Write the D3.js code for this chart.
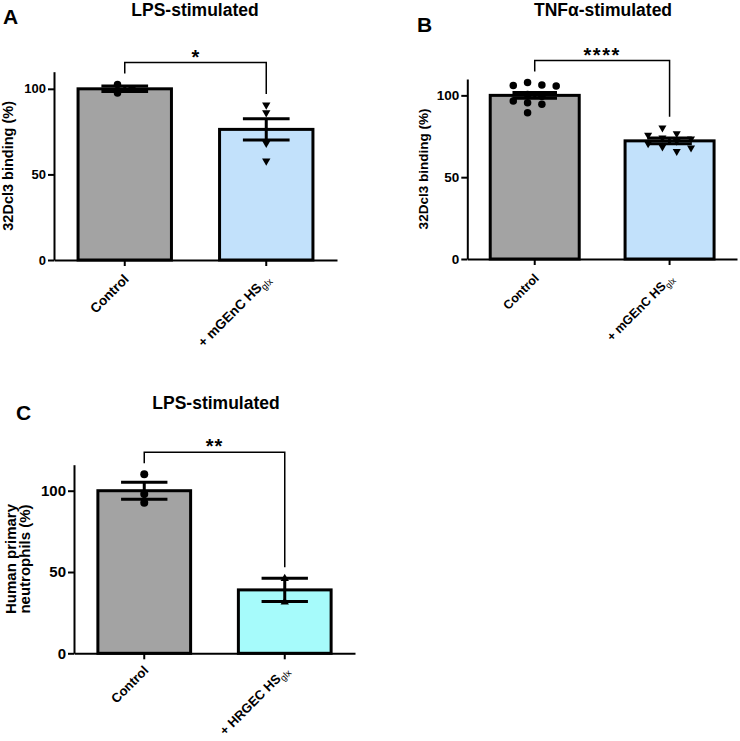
<!DOCTYPE html>
<html>
<head>
<meta charset="utf-8">
<script src="https://cdn.jsdelivr.net/npm/d3@7"></script>
<style>
  body { margin: 0; background: #fff; }
  text { font-family: "Liberation Sans", Arial, sans-serif; }
</style>
</head>
<body>
<svg id="fig" width="740" height="741"></svg>
<script>
// ---- data ----
var categoriesA = ["Control", "+ mGEnC HS"];
var subscriptsA = ["", "glx"];
var meansA = [100, 76.3];
var semsA = [1.6, 6.2];
var controlPtsA = [102.5, 100, 97.5];
var treatedPtsA = [90.6, 86.1, 68.2, 57.9];

var categoriesB = ["Control", "+ mGEnC HS"];
var subscriptsB = ["", "glx"];
var meansB = [100, 72.2];
var semsB = [1.8, 1.8];
var controlPtsB = [107.8, 106.3, 106.1, 105.7, 100.5, 99.5, 96.5, 95.5, 94.5, 89.4];
var treatedPtsB = [80.2, 76.7, 75.7, 74.0, 73.5, 72.0, 70.5, 68.5, 67.9, 65.8];

var categoriesC = ["Control", "+ HRGEC HS"];
var subscriptsC = ["", "glx"];
var meansC = [100, 39];
var semsC = [5.2, 7.1];
var controlPtsC = [110.2, 98, 92.6];
var treatedPtsC = [46, 31.5];

var yTicks = [0, 50, 100];
var colors = ["#a3a3a3", "#c2e1fb", "#a6fbfb"];

var svg = d3.select("#fig");
svg.append("rect").attr("width", 740).attr("height", 741).attr("fill", "#fff");

// spread points sideways so they don't overlap (simple beeswarm, then recentred)
function swarm(values, y, diam, step) {
  var placed = [];
  values.slice().sort(function(a, b) { return b - a; }).forEach(function(v) {
    var slots = [0, 1, -1, 2, -2, 3, -3, 4, -4];
    for (var k = 0; k < slots.length; k++) {
      var s = slots[k];
      var hit = placed.some(function(p) { return p.slot === s && Math.abs(y(p.v) - y(v)) < diam; });
      if (!hit) { placed.push({ v: v, slot: s }); break; }
    }
  });
  var ext = d3.extent(placed, function(p) { return p.slot; });
  var mid = (ext[0] + ext[1]) / 2;
  placed.forEach(function(p) { p.dx = (p.slot - mid) * step; });
  return placed;
}

function drawPanel(p) {
  var g = svg.append("g");
  var x = d3.scaleBand().domain(p.categories).range(p.xRange)
    .paddingInner(0.34).paddingOuter(0.17);
  var y = d3.scaleLinear().domain([0, p.yMax]).range(p.yRange);
  var bw = x.bandwidth();

  // bars
  g.selectAll("rect.bar").data(p.categories).enter().append("rect")
    .attr("x", function(d) { return x(d); })
    .attr("y", function(d, i) { return y(p.means[i]); })
    .attr("width", bw)
    .attr("height", function(d, i) { return y(0) - y(p.means[i]); })
    .attr("fill", function(d, i) { return p.fills[i]; })
    .attr("stroke", "#000").attr("stroke-width", 3);

  // axes
  var ya = g.append("g").attr("transform", "translate(" + p.xRange[0] + ",0)")
    .call(d3.axisLeft(y).tickValues(yTicks).tickSize(6).tickPadding(2).tickSizeOuter(0));
  var xa = g.append("g").attr("transform", "translate(0," + p.yRange[0] + ")")
    .call(d3.axisBottom(x).tickSize(6).tickSizeOuter(0));
  xa.selectAll("text").remove();
  [ya, xa].forEach(function(a) {
    a.select(".domain").attr("stroke", "#000").attr("stroke-width", 2);
    a.selectAll(".tick line").attr("stroke", "#000").attr("stroke-width", 2);
  });
  ya.selectAll("text").attr("font-size", p.tickFont).attr("font-weight", "bold")
    .attr("fill", "#000").attr("font-family", "Liberation Sans, Arial, sans-serif");

  // rotated category labels
  p.categories.forEach(function(c, i) {
    var t = g.append("text")
      .attr("transform", "translate(" + (x(c) + bw / 2 + 5) + "," + (p.yRange[0] + p.catDrop) + ") rotate(-45)")
      .attr("text-anchor", "end").attr("font-size", p.catFont).attr("font-weight", "bold");
    t.append("tspan").text(c);
    if (p.subs[i]) {
      t.append("tspan").text(p.subs[i]).attr("font-size", p.catFont * 0.7)
        .attr("font-weight", "normal").attr("dy", 3);
    }
  });

  // error bars
  var cap = bw * 0.5;
  p.categories.forEach(function(c, i) {
    var cx = x(c) + bw / 2;
    var lo = y(p.means[i] - p.sems[i]), hi = y(p.means[i] + p.sems[i]);
    g.append("path")
      .attr("d", "M" + cx + "," + lo + "V" + hi +
        "M" + (cx - cap / 2) + "," + hi + "H" + (cx + cap / 2) +
        "M" + (cx - cap / 2) + "," + lo + "H" + (cx + cap / 2))
      .attr("stroke", "#000").attr("stroke-width", 3).attr("fill", "none");
  });

  // individual points
  var groups = [p.controlPts, p.treatedPts];
  groups.forEach(function(vals, i) {
    var cx = x(p.categories[i]) + bw / 2;
    var pts = swarm(vals, y, p.markerDiam, p.swarmStep);
    var sel = g.selectAll(null).data(pts).enter();
    if (p.markers[i] === "circle") {
      sel.append("circle").attr("cx", function(d) { return cx + d.dx; })
        .attr("cy", function(d) { return y(d.v); })
        .attr("r", p.markerDiam / 2).attr("fill", "#000");
    } else {
      var rot = p.markers[i] === "down" ? 180 : 0;
      sel.append("path").attr("d", d3.symbol(d3.symbolTriangle, p.triSize)())
        .attr("transform", function(d) {
          return "translate(" + (cx + d.dx) + "," + y(d.v) + ") rotate(" + rot + ")";
        })
        .attr("fill", "#000");
    }
  });

  // significance bracket
  var ends = groups.map(function(vals, i) {
    return y(Math.max(d3.max(vals), p.means[i] + p.sems[i])) - 11;
  });
  var top = Math.min(ends[0], ends[1]) - 11;
  var x0 = x(p.categories[0]) + bw / 2, x1 = x(p.categories[1]) + bw / 2;
  g.append("path")
    .attr("d", "M" + x0 + "," + ends[0] + "V" + top + "H" + x1 + "V" + ends[1])
    .attr("stroke", "#000").attr("stroke-width", 1.5).attr("fill", "none");
  g.append("text").attr("x", (x0 + x1) / 2).attr("y", top + 1)
    .attr("text-anchor", "middle").attr("font-size", 20).attr("font-weight", "bold")
    .attr("letter-spacing", p.starSpacing)
    .text(p.sig);

  // title and panel letter
  g.append("text").attr("x", p.title[1]).attr("y", p.title[2])
    .attr("text-anchor", "middle").attr("font-size", 17.5).attr("font-weight", "bold")
    .text(p.title[0]);
  g.append("text").attr("x", p.letter[1]).attr("y", p.letter[2])
    .attr("font-size", 21).attr("font-weight", "bold").text(p.letter[0]);

  // y-axis label (one or more lines)
  var ymid = (p.yRange[0] + p.yRange[1]) / 2;
  p.yLabel.forEach(function(line, k) {
    g.append("text")
      .attr("transform", "translate(" + p.yLabelX[k] + "," + ymid + ") rotate(-90)")
      .attr("text-anchor", "middle").attr("font-size", p.yLabelFont).attr("font-weight", "bold")
      .text(line);
  });
}

drawPanel({
  categories: categoriesA, subs: subscriptsA, means: meansA, sems: semsA,
  controlPts: controlPtsA, treatedPts: treatedPtsA,
  markers: ["circle", "down"], fills: [colors[0], colors[1]], sig: "*", starSpacing: 0,
  xRange: [54, 337], yRange: [260, 71.7], yMax: 110,
  tickFont: 13, catFont: 13.5, catDrop: 20, markerDiam: 7.5, triSize: 30, swarmStep: 14.5,
  title: ["LPS-stimulated", 195, 16], letter: ["A", 3, 24],
  yLabel: ["32Dcl3 binding (%)"], yLabelX: [13], yLabelFont: 14.5
});

drawPanel({
  categories: categoriesB, subs: subscriptsB, means: meansB, sems: semsB,
  controlPts: controlPtsB, treatedPts: treatedPtsB,
  markers: ["circle", "down"], fills: [colors[0], colors[1]], sig: "****", starSpacing: 1.5,
  xRange: [467.3, 737], yRange: [259, 79], yMax: 110,
  tickFont: 13.5, catFont: 12.5, catDrop: 20, markerDiam: 7.5, triSize: 28, swarmStep: 14.3,
  title: ["TNF\u03b1-stimulated", 603, 16], letter: ["B", 417, 32],
  yLabel: ["32Dcl3 binding (%)"], yLabelX: [428], yLabelFont: 13.5
});

drawPanel({
  categories: categoriesC, subs: subscriptsC, means: meansC, sems: semsC,
  controlPts: controlPtsC, treatedPts: treatedPtsC,
  markers: ["circle", "up"], fills: [colors[0], colors[2]], sig: "**", starSpacing: 1,
  xRange: [74, 355], yRange: [653.3, 464.7], yMax: 116,
  tickFont: 15, catFont: 13, catDrop: 18, markerDiam: 8, triSize: 30, swarmStep: 14.5,
  title: ["LPS-stimulated", 216, 409], letter: ["C", 16, 420],
  yLabel: ["Human primary", "neutrophils (%)"], yLabelX: [16, 29.5], yLabelFont: 15
});
</script>
</body>
</html>
